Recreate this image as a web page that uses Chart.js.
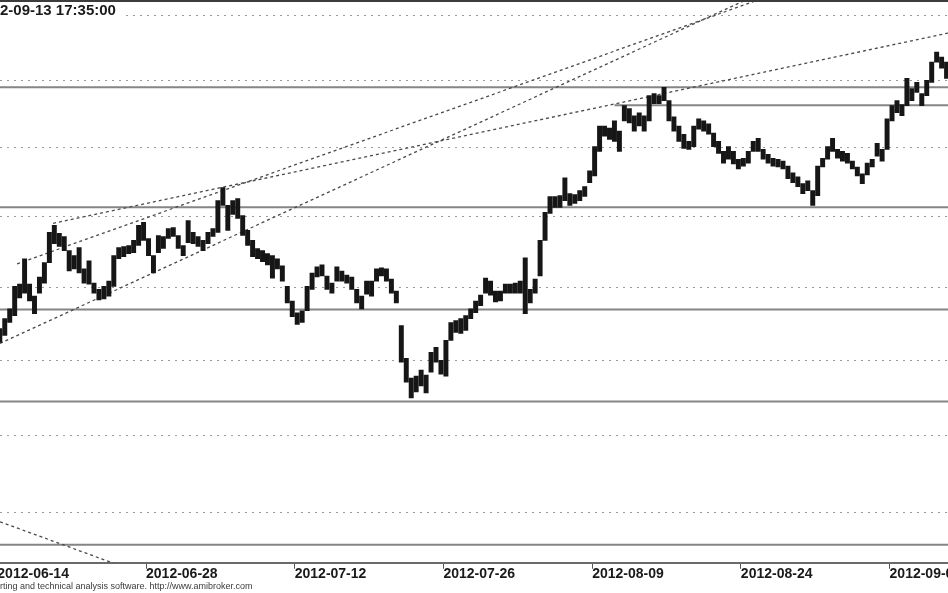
<!DOCTYPE html>
<html>
<head>
<meta charset="utf-8">
<script src="https://cdn.jsdelivr.net/npm/chart.js@4.4.1/dist/chart.umd.min.js"></script>
<style>
  html, body { margin: 0; padding: 0; background: #ffffff; }
  #wrap { width: 948px; height: 593px; position: relative; overflow: hidden; }
</style>
</head>
<body>
<div id="wrap"><canvas id="c" width="948" height="593"></canvas></div>
<script>
// ---------------- data ----------------
const titleText = '2012-09-13 17:35:00';
const footerText = 'AmiBroker - charting and technical analysis software. http://www.amibroker.com';

const barsPerDay = 3;               // intraday bars per trading day
const dateLabels = ['2012-06-14', '2012-06-28', '2012-07-12', '2012-07-26', '2012-08-09', '2012-08-24', '2012-09-07'];
const labelDays  = [0, 10, 20, 30, 40, 50, 60];   // trading-day index of each label
const xMin = 0.18, xMax = 63.93;    // visible trading-day window
const yMin = 1568.5, yMax = 1961.7; // visible price window (log scale)
const gridLevels = [1600, 1650, 1700, 1750, 1800, 1850, 1900, 1950];

const highs = [
 1721.6,1728.4,1735.1,1750.7,1752.2,1770.0,1752.2,1743.9,1757.2,1767.2,
 1788.6,1793.6,1787.9,1785.7,1775.7,1772.2,1777.9,1762.9,1768.6,1752.9,
 1748.6,1750.7,1754.3,1772.2,1777.9,1778.6,1779.3,1782.9,1793.6,1795.7,
 1784.3,1772.2,1786.4,1785.7,1791.4,1792.1,1786.4,1779.3,1797.1,1788.6,
 1785.7,1782.9,1788.6,1791.4,1811.4,1820.7,1807.9,1811.4,1812.9,1800.7,
 1790.0,1782.9,1777.2,1775.7,1773.6,1772.2,1770.0,1765.0,1750.7,1740.5,
 1732.4,1733.8,1750.7,1760.0,1764.3,1765.7,1757.9,1752.9,1764.3,1761.4,
 1758.6,1757.2,1748.6,1743.9,1754.3,1754.3,1762.9,1763.6,1762.9,1755.7,
 1747.3,1723.6,1701.3,1688.0,1689.3,1693.3,1690.0,1705.4,1708.8,1700.0,
 1713.5,1725.7,1727.0,1728.4,1730.4,1735.1,1740.5,1744.6,1756.4,1754.3,
 1747.3,1747.3,1752.2,1752.2,1752.9,1754.3,1770.7,1748.6,1755.7,1782.9,
 1802.9,1814.3,1814.3,1815.0,1827.9,1816.4,1815.7,1818.6,1821.4,1832.9,
 1850.7,1865.9,1865.9,1864.4,1869.7,1862.1,1881.0,1878.8,1873.5,1875.7,
 1873.5,1888.6,1890.1,1888.6,1894.7,1884.8,1872.7,1865.9,1859.8,1854.5,
 1865.9,1871.2,1869.7,1867.4,1860.6,1854.5,1847.1,1850.7,1847.1,1841.4,
 1842.1,1847.1,1854.5,1856.8,1848.6,1845.0,1842.1,1841.4,1840.0,1836.4,
 1831.4,1828.6,1823.6,1825.7,1818.6,1836.4,1842.1,1850.7,1856.8,1848.6,
 1847.1,1845.7,1840.0,1835.7,1830.7,1838.6,1841.4,1853.0,1848.6,1871.2,
 1881.0,1884.8,1881.8,1901.6,1893.9,1898.5,1890.1,1900.0,1913.9,1921.5,
 1917.7,1913.9
];
const lows = [
 1712.1,1716.9,1725.7,1730.4,1742.6,1745.9,1740.5,1731.7,1745.9,1752.9,
 1767.2,1780.7,1778.6,1775.7,1761.4,1762.9,1760.0,1752.9,1752.2,1745.9,
 1741.2,1741.9,1743.9,1750.7,1770.0,1771.4,1773.6,1774.3,1779.3,1782.9,
 1772.2,1760.0,1774.3,1777.2,1784.3,1785.7,1777.2,1772.2,1781.4,1780.7,
 1778.6,1775.7,1780.7,1785.7,1788.6,1807.9,1790.0,1801.4,1798.6,1786.4,
 1779.3,1771.4,1770.0,1767.9,1765.7,1756.4,1762.9,1754.3,1739.2,1729.7,
 1724.3,1725.7,1733.8,1748.6,1757.2,1757.9,1748.6,1745.9,1754.3,1754.3,
 1752.9,1748.6,1739.2,1735.1,1745.3,1743.9,1754.3,1757.9,1754.3,1745.9,
 1739.2,1698.7,1685.3,1674.7,1678.7,1682.7,1678.0,1692.0,1698.7,1690.7,
 1689.3,1713.5,1718.9,1718.2,1720.3,1728.4,1732.4,1737.2,1745.9,1744.6,
 1739.9,1740.5,1745.9,1745.9,1745.9,1745.9,1731.7,1739.2,1745.9,1757.9,
 1782.9,1802.2,1806.4,1806.4,1811.4,1807.9,1809.3,1811.4,1814.3,1824.3,
 1829.3,1847.1,1858.3,1856.0,1854.5,1847.1,1869.7,1868.2,1862.1,1865.9,
 1862.1,1869.7,1882.6,1882.6,1884.8,1869.7,1862.1,1854.5,1849.3,1848.6,
 1850.7,1863.6,1862.1,1859.8,1850.7,1845.7,1838.6,1841.4,1837.9,1834.3,
 1836.4,1838.6,1847.1,1847.1,1841.4,1838.6,1836.4,1835.7,1834.3,1827.2,
 1824.3,1821.4,1816.4,1818.6,1807.9,1815.0,1835.7,1841.4,1847.1,1842.1,
 1840.0,1838.6,1834.3,1829.3,1823.6,1830.0,1835.7,1843.6,1840.0,1848.6,
 1869.7,1875.7,1873.5,1881.0,1884.8,1890.9,1881.0,1888.6,1898.5,1913.9,
 1909.2,1901.5
];

// horizontal support / resistance levels drawn on the chart
const levelValues    = [1894.9, 1881.4, 1806.6, 1734.7, 1672.4, 1579.8];
const levelStartDays = [0.18, 41.5, 0.18, 0.18, 0.18, 0.18];

// dashed trend lines: [startDay, startPrice, endDay, endPrice]
const trendUpperLow   = [3.75, 1795.1, 63.93, 1936.1];
const trendChannelTop = [1.33, 1766.4, 53.98, 1973.4];
const trendChannelBot = [0.18, 1711.4, 53.98, 1981.3];
const trendFalling    = [0.18, 1594.3, 8.92, 1564.5];

// ---------------- build datasets ----------------
const barData = highs.map((h, i) => ({ x: (i + 0.5) / barsPerDay, y: [lows[i], h] }));

const datasets = [{
  type: 'bar',
  label: 'price',
  data: barData,
  backgroundColor: '#161616',
  borderWidth: 0,
  barThickness: 4.3,
  order: 0
}];

levelValues.forEach((v, i) => {
  datasets.push({
    type: 'line',
    label: 'level ' + v,
    data: [{ x: levelStartDays[i], y: v }, { x: xMax, y: v }],
    borderColor: '#858585',
    borderWidth: 2,
    pointRadius: 0,
    fill: false,
    order: 2
  });
});

[trendUpperLow, trendChannelTop, trendChannelBot, trendFalling].forEach((t, i) => {
  datasets.push({
    type: 'line',
    label: 'trend ' + i,
    data: [{ x: t[0], y: t[1] }, { x: t[2], y: t[3] }],
    borderColor: '#4a4a4a',
    borderWidth: 1.3,
    borderDash: [3, 3],
    pointRadius: 0,
    fill: false,
    order: 1
  });
});

// ---------------- decorations: header, footer, frame ----------------
const overlayPlugin = {
  id: 'overlay',
  afterDraw(chart) {
    const ctx = chart.ctx;
    ctx.save();
    ctx.fillStyle = '#3c3c3c';
    ctx.fillRect(0, 0, chart.width, 2);

    ctx.font = 'bold 15px "Liberation Sans", Arial, sans-serif';
    const off = ctx.measureText(titleText.slice(0, 3)).width;
    const w = ctx.measureText(titleText).width;
    ctx.fillStyle = '#ffffff';
    ctx.fillRect(0, 3, w - off + 8, 17);
    ctx.fillStyle = '#1a1a1a';
    ctx.textBaseline = 'middle';
    ctx.fillText(titleText, -off, 11);

    ctx.font = '9px "Liberation Sans", Arial, sans-serif';
    const foff = ctx.measureText(footerText.slice(0, footerText.indexOf('rting'))).width;
    ctx.fillStyle = '#3a3a3a';
    ctx.fillText(footerText, -foff, 587);
    ctx.restore();
  }
};

new Chart(document.getElementById('c'), {
  type: 'bar',
  data: { datasets },
  options: {
    responsive: false,
    devicePixelRatio: 1,
    animation: false,
    events: [],
    layout: { padding: { left: 0, right: 0, top: 0, bottom: 14.2 } },
    plugins: { legend: { display: false }, title: { display: false }, tooltip: { enabled: false } },
    scales: {
      x: {
        type: 'linear',
        min: xMin,
        max: xMax,
        bounds: 'data',
        offset: false,
        afterBuildTicks: (scale) => { scale.ticks = labelDays.map(v => ({ value: v })); },
        afterFit: (scale) => { scale.paddingLeft = 0; scale.paddingRight = 0; },
        grid: { drawOnChartArea: false, drawTicks: true, tickLength: 6, tickColor: '#555', tickWidth: 1, offset: false },
        border: { display: true, color: '#6a6a6a', width: 2 },
        ticks: {
          autoSkip: false,
          maxRotation: 0,
          minRotation: 0,
          align: 'start',
          padding: -2,
          color: '#1a1a1a',
          font: { family: '"Liberation Sans", Arial, sans-serif', size: 14, weight: 'bold', lineHeight: 1 },
          callback: (value) => { const k = labelDays.indexOf(value); return k >= 0 ? dateLabels[k] : ''; }
        }
      },
      y: {
        type: 'logarithmic',
        min: yMin,
        max: yMax,
        bounds: 'data',
        afterBuildTicks: (scale) => { scale.ticks = gridLevels.map(v => ({ value: v })); },
        grid: { drawOnChartArea: true, drawTicks: false, color: '#9a9a9a', lineWidth: 1 },
        border: { display: false, dash: [2, 5] },
        ticks: { display: false }
      }
    }
  },
  plugins: [overlayPlugin]
});
</script>
</body>
</html>
